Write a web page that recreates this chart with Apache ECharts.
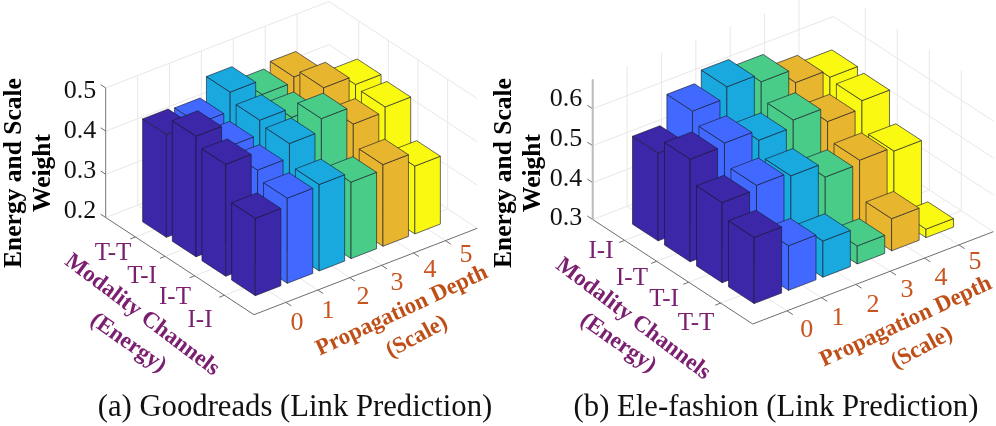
<!DOCTYPE html>
<html><head><meta charset="utf-8">
<style>html,body{margin:0;padding:0;background:#fff}#c{width:996px;height:426px}</style>
<script src="https://cdn.jsdelivr.net/npm/echarts@6/dist/echarts.min.js"></script>
</head><body><div id="c"></div>
<script>
// ---- data ----
const depthLabels = ['0','1','2','3','4','5'];
const goodreadsChannels = ['T-T','T-I','I-T','I-I'];
const goodreadsZTicks = [0.2,0.3,0.4,0.5];
const goodreadsD0 = [0.438,0.479,0.459,0.379];
const goodreadsD1 = [0.435,0.426,0.417,0.397];
const goodreadsD2 = [0.479,0.459,0.450,0.400];
const goodreadsD3 = [0.445,0.437,0.479,0.377];
const goodreadsD4 = [0.457,0.477,0.438,0.389];
const goodreadsD5 = [0.385,0.456,0.449,0.357];
const fashionChannels = ['I-I','I-T','T-I','T-T'];
const fashionZTicks = [0.3,0.4,0.5,0.6];
const fashionD0 = [0.538,0.578,0.517,0.479];
const fashionD1 = [0.616,0.586,0.528,0.421];
const fashionD2 = [0.646,0.558,0.518,0.398];
const fashionD3 = [0.624,0.577,0.479,0.349];
const fashionD4 = [0.586,0.537,0.489,0.387];
const fashionD5 = [0.565,0.558,0.478,0.323];
const depthColors = ['#3B27A8','#4169FF','#1AA9DE','#48CC88','#E8B52F','#F9F911'];

// ---- layout ----
const SERIF = '"Liberation Serif","Times New Roman",serif';
const PURPLE = '#7B2070', RUST = '#C8541F', RUSTB = '#BF4F18';
const panels = [
 { F:[254,314.7], L:[105.7,217.5], R:[477.3,228.3], zMin:0.2, zMax:0.5, pxPer:432,
   zticks:goodreadsZTicks, series:[goodreadsD0,goodreadsD1,goodreadsD2,goodreadsD3,goodreadsD4,goodreadsD5],
   channels:goodreadsChannels, zAxisColor:'#777', zAxisWidth:1,
   zLabelPos:[[80,210.7],[80,170.7],[80,130.7],[80,90.7]],
   chanPos:[[113,253],[142,276],[175,297],[200,320]],
   depthPos:[[297,323],[328,311],[363,297],[397,283],[430,270],[466,255]],
   title:'(a) Goodreads (Link Prediction)', titlePos:[295,408],
   ey:[14,173], wy:[43,173],
   mc:[142,315,-37], en:[128,343,-35], pd:[402,311,25], sc:[417,337,28] },
 { F:[752.7,324], L:[592.7,219.5], R:[993.3,231.7], zMin:0.3, zMax:0.68, pxPer:369,
   zticks:fashionZTicks, series:[fashionD0,fashionD1,fashionD2,fashionD3,fashionD4,fashionD5],
   channels:fashionChannels, zAxisColor:'#bbb', zAxisWidth:2,
   zLabelPos:[[566,218.3],[566,179.3],[566,139.3],[566,99.3]],
   chanPos:[[601,251.7],[632,278],[664,299],[696,323]],
   depthPos:[[806.7,330],[838,318],[873,305],[907,290],[941,278],[975,262]],
   title:'(b) Ele-fashion (Link Prediction)', titlePos:[776,408],
   ey:[504,173], wy:[533,173],
   mc:[633,319,-37], en:[618,343,-35], pd:[906,322,25], sc:[922,348,28] }
];
const BAR = 0.4; // half width in axis units

panels.forEach(p=>{
  p.duy=(p.R[1]-p.F[1])/7;
  p.dvx=(p.F[0]-p.L[0])/5;
  p.dvy=(p.F[1]-p.L[1])/5;
  p.h=(p.zMax-p.zMin)*p.pxPer;
});
function proj(p,api,u,v,z){
  const c=api.coord([u,z]);
  return [c[0]+(v-5)*p.dvx, c[1]+u*p.duy+(v-5)*p.dvy];
}
function line(a,b,color,w){
  return {type:'line',shape:{x1:a[0],y1:a[1],x2:b[0],y2:b[1]},style:{stroke:color,lineWidth:w,fill:null},silent:true};
}
const GRIDC='#e8e8e8', AXC='#6e6e6e';
function frameItem(p){
  return function(params,api){
    const P=(u,v,z)=>proj(p,api,u,v,z), z0=p.zMin, z1=p.zMax, kids=[];
    for(let k=1;k<=6;k++){
      kids.push(line(P(k,0,z0),P(k,5,z0),GRIDC,1));
      kids.push(line(P(k,0,z0),P(k,0,z1),GRIDC,1));
    }
    for(let v=1;v<=4;v++){
      kids.push(line(P(0,v,z0),P(7,v,z0),GRIDC,1));
      kids.push(line(P(7,v,z0),P(7,v,z1),GRIDC,1));
    }
    p.zticks.forEach(z=>{
      kids.push(line(P(0,0,z),P(7,0,z),GRIDC,1));
      kids.push(line(P(7,0,z),P(7,5,z),GRIDC,1));
      kids.push(line(P(0,0,z),P(0,-0.17,z),AXC,1));
    });
    kids.push(line(P(0,0,z0),P(0,5,z0),AXC,1));
    kids.push(line(P(0,5,z0),P(7,5,z0),AXC,1));
    kids.push(line(P(0,0,z0),P(0,0,z1),p.zAxisColor,p.zAxisWidth));
    for(let k=1;k<=6;k++) kids.push(line(P(k,5,z0),P(k,5.18,z0),AXC,1));
    for(let v=1;v<=4;v++) kids.push(line(P(0,v,z0),P(-0.16,v,z0),AXC,1));
    return {type:'group',children:kids};
  };
}
function barItem(p,d){
  return function(params,api){
    const v=api.value(0)+1, val=api.value(1), u=d+1, z0=p.zMin;
    const P=(a,b,z)=>proj(p,api,a,b,z);
    const u0=u-BAR,u1=u+BAR,v0=v-BAR,v1=v+BAR;
    const style={fill:depthColors[d],stroke:'rgba(25,25,45,0.8)',lineWidth:0.8,lineJoin:'round'};
    const poly=pts=>({type:'polygon',shape:{points:pts},style:style,silent:true});
    return {type:'group',children:[
      poly([P(u0,v0,z0),P(u0,v1,z0),P(u0,v1,val),P(u0,v0,val)]),
      poly([P(u0,v1,z0),P(u1,v1,z0),P(u1,v1,val),P(u0,v1,val)]),
      poly([P(u0,v0,val),P(u1,v0,val),P(u1,v1,val),P(u0,v1,val)])
    ]};
  };
}
const grids=[],xAxes=[],yAxes=[],series=[],texts=[];
function txt(s,x,y,size,color,bold,rotDeg){
  texts.push({type:'text',x:x,y:y,rotation:(rotDeg||0)*Math.PI/180,silent:true,
    style:{text:s,x:0,y:0,align:'center',verticalAlign:'middle',textAlign:'center',textVerticalAlign:'middle',
    fontFamily:SERIF,fontSize:size,fontWeight:bold?'bold':'normal',fill:color}});
}
panels.forEach((p,i)=>{
  grids.push({left:p.F[0],top:p.F[1]-p.h,width:p.R[0]-p.F[0],height:p.h,containLabel:false});
  xAxes.push({type:'value',gridIndex:i,min:0,max:7,show:false});
  yAxes.push({type:'value',gridIndex:i,min:p.zMin,max:p.zMax,show:false,scale:true});
  series.push({type:'custom',xAxisIndex:i,yAxisIndex:i,coordinateSystem:'cartesian2d',clip:false,silent:true,z:1,
    data:[[0,p.zMin]],renderItem:frameItem(p),animation:false});
  p.series.forEach((vals,d)=>{
    series.push({type:'custom',name:'Depth '+depthLabels[d],xAxisIndex:i,yAxisIndex:i,coordinateSystem:'cartesian2d',
      clip:false,silent:true,z:20-d,animation:false,
      encode:{x:0,y:1},
      data:vals.map((val,r)=>[r,val]),renderItem:barItem(p,d)});
  });
  p.zticks.forEach((z,k)=>txt(z.toFixed(1),p.zLabelPos[k][0],p.zLabelPos[k][1],26,'#111',false));
  p.channels.forEach((c,k)=>txt(c,p.chanPos[k][0],p.chanPos[k][1],25,PURPLE,false));
  depthLabels.forEach((c,k)=>txt(c,p.depthPos[k][0],p.depthPos[k][1],26,RUST,false));
  txt(p.title,p.titlePos[0],p.titlePos[1],30.7,'#111',false);
  txt('Energy and Scale',p.ey[0],p.ey[1],25.5,'#000',true,90);
  txt('Weight',p.wy[0],p.wy[1],25.5,'#000',true,90);
  txt('Modality Channels',p.mc[0],p.mc[1],23,PURPLE,true,p.mc[2]);
  txt('(Energy)',p.en[0],p.en[1],23,PURPLE,true,p.en[2]);
  txt('Propagation Depth',p.pd[0],p.pd[1],23,RUSTB,true,p.pd[2]);
  txt('(Scale)',p.sc[0],p.sc[1],23,RUSTB,true,p.sc[2]);
});
const chart=echarts.init(document.getElementById('c'));
chart.setOption({animation:false,backgroundColor:'#fff',grid:grids,xAxis:xAxes,yAxis:yAxes,series:series,graphic:{elements:texts}});
</script></body></html>
